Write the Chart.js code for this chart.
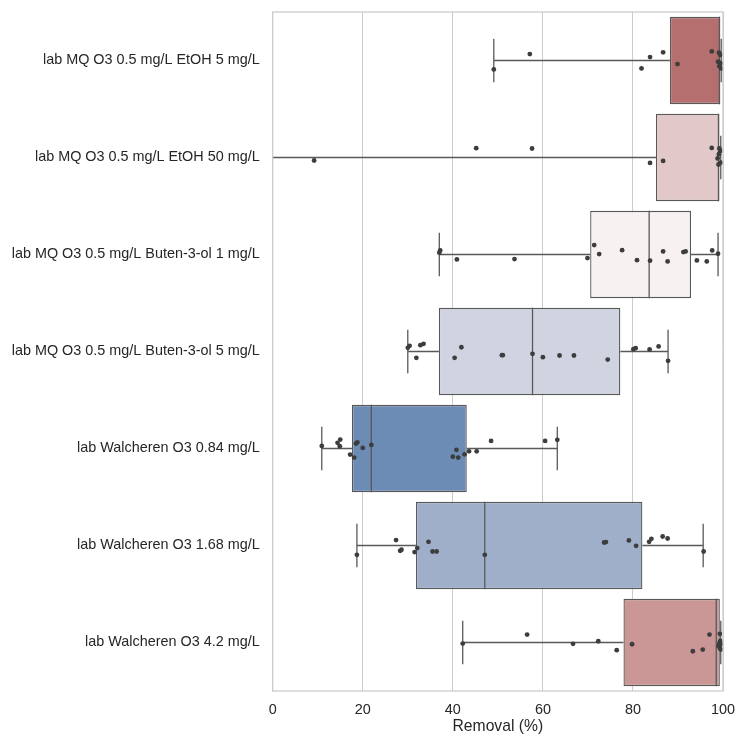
<!DOCTYPE html>
<html>
<head>
<meta charset="utf-8">
<script src="https://cdn.jsdelivr.net/npm/chart.js@4.4.1/dist/chart.umd.min.js"></script>
<style>
  html, body { margin: 0; padding: 0; background: #ffffff; }
  #wrap { width: 737px; height: 738px; position: relative; }
</style>
</head>
<body>
<div id="wrap"><canvas id="chart"></canvas></div>
<script>
// Experiments (one box per row, top to bottom)
const categories = [
  'lab MQ O3 0.5 mg/L EtOH 5 mg/L',
  'lab MQ O3 0.5 mg/L EtOH 50 mg/L',
  'lab MQ O3 0.5 mg/L Buten-3-ol 1 mg/L',
  'lab MQ O3 0.5 mg/L Buten-3-ol 5 mg/L',
  'lab Walcheren O3 0.84 mg/L',
  'lab Walcheren O3 1.68 mg/L',
  'lab Walcheren O3 4.2 mg/L'
];

// Box statistics, removal in %
const whiskerLow  = [49.1, -2.0, 37.0, 30.0, 10.9, 18.7, 42.2];
const quartile1   = [88.2, 85.1, 70.5, 36.9, 17.6, 31.8, 77.9];
const medians     = [99.2, 99.0, 83.6, 57.7, 21.9, 47.1, 98.5];
const quartile3   = [99.4, 99.2, 92.9, 77.2, 43.1, 82.1, 99.3];
const whiskerHigh = [99.6, 99.5, 98.9, 87.8, 63.2, 95.6, 99.5];

// Individual measurements per experiment, removal in %
const removalPoints = [
  [57.1, 49.1, 81.9, 83.8, 86.7, 89.9, 97.5, 99.1, 99.4, 98.9, 99.5, 99.2, 99.6],
  [9.2, 45.2, 57.6, 83.8, 86.7, 97.5, 99.2, 99.4, 99.1, 98.8, 99.5, 99.0],
  [37.2, 37.0, 40.9, 53.7, 69.9, 71.4, 72.5, 77.6, 80.9, 83.8, 86.7, 87.7, 91.2, 91.7, 94.2, 96.4, 97.6, 98.9],
  [30.0, 30.4, 31.9, 32.8, 33.5, 40.4, 41.9, 50.9, 51.1, 57.7, 60.0, 63.7, 66.9, 74.4, 80.1, 80.6, 83.7, 85.7, 87.8],
  [10.9, 14.4, 15.0, 14.9, 17.2, 18.1, 18.5, 18.8, 20.0, 21.9, 40.0, 40.8, 41.2, 42.6, 43.6, 45.3, 48.5, 60.5, 63.2],
  [18.7, 27.4, 28.3, 28.6, 31.5, 32.1, 34.6, 35.5, 36.4, 47.1, 73.6, 74.0, 79.1, 80.7, 83.6, 84.1, 86.6, 87.7, 95.7],
  [42.2, 56.5, 66.7, 72.3, 76.4, 79.8, 93.3, 95.5, 97.0, 99.3, 99.4, 99.0, 99.2, 99.6, 99.3, 99.5]
];

// Strip-plot jitter of each measurement, as a fraction of one row
const jitter = [
  [-0.066, 0.092, 0.082, -0.035, -0.084, 0.037, -0.094, -0.08, -0.056, 0.013, 0.03, 0.058, 0.082],
  [0.031, -0.096, -0.093, 0.056, 0.035, -0.099, -0.093, -0.068, -0.034, 0.01, 0.052, 0.072],
  [-0.042, -0.019, 0.051, 0.047, 0.037, -0.097, -0.004, -0.045, 0.058, 0.064, -0.032, 0.071, -0.025, -0.032, 0.061, 0.071, -0.042, -0.008],
  [-0.038, -0.059, 0.065, -0.065, -0.079, 0.065, -0.044, 0.038, 0.038, 0.024, 0.059, 0.041, 0.041, 0.083, -0.024, -0.034, -0.021, -0.052, 0.096],
  [-0.027, -0.058, -0.092, -0.023, 0.063, 0.094, -0.051, -0.064, -0.006, -0.037, 0.084, 0.014, 0.094, 0.06, 0.029, 0.029, -0.078, -0.078, -0.089],
  [0.096, -0.056, 0.055, 0.044, 0.068, 0.027, -0.038, 0.062, 0.062, 0.096, -0.031, -0.035, -0.052, 0.003, -0.038, -0.069, -0.093, -0.072, 0.062],
  [0.011, -0.082, 0.014, -0.013, 0.079, 0.018, 0.09, 0.073, -0.082, -0.089, -0.017, 0.035, 0.004, 0.014, 0.056, 0.071]
];

const xTicks = [0, 20, 40, 60, 80, 100];
const xTitle = 'Removal (%)';

// Styling
const boxColors = [
  'rgb(180,111,110)',
  'rgb(226,200,200)',
  'rgb(247,241,241)',
  'rgb(208,212,224)',
  'rgb(108,139,181)',
  'rgb(159,175,201)',
  'rgb(202,151,150)'
];
const lineColor = '#595959';
const pointColor = '#3d3d3d';
const frameColor = '#cccccc';
const textColor = '#262626';
const fontFamily = "'Liberation Sans', Arial, Helvetica, sans-serif";
const BOX_HALF = 0.45;
const CAP_HALF = 0.225;

// Build datasets
const datasets = [];

datasets.push({
  type: 'bar',
  data: categories.map((c, i) => ({ x: [quartile1[i], quartile3[i]], y: i })),
  backgroundColor: boxColors,
  borderColor: lineColor,
  borderWidth: 1.3,
  borderSkipped: false,
  barPercentage: 2 * BOX_HALF,
  categoryPercentage: 1.0,
  order: 3
});

function segment(points) {
  return {
    type: 'scatter',
    data: points,
    showLine: true,
    borderColor: lineColor,
    borderWidth: 1.3,
    pointRadius: 0,
    pointHoverRadius: 0,
    clip: 0,
    order: 2
  };
}

categories.forEach((c, i) => {
  datasets.push(segment([{ x: whiskerLow[i], y: i }, { x: quartile1[i], y: i }]));
  datasets.push(segment([{ x: quartile3[i], y: i }, { x: whiskerHigh[i], y: i }]));
  datasets.push(segment([{ x: whiskerLow[i], y: i - CAP_HALF }, { x: whiskerLow[i], y: i + CAP_HALF }]));
  datasets.push(segment([{ x: whiskerHigh[i], y: i - CAP_HALF }, { x: whiskerHigh[i], y: i + CAP_HALF }]));
  datasets.push(segment([{ x: medians[i], y: i - BOX_HALF }, { x: medians[i], y: i + BOX_HALF }]));
});

const stripData = [];
removalPoints.forEach((row, i) => {
  row.forEach((v, k) => stripData.push({ x: v, y: i + jitter[i][k] }));
});
datasets.push({
  type: 'scatter',
  data: stripData,
  pointRadius: 2.4,
  pointBorderWidth: 0,
  pointBackgroundColor: pointColor,
  pointBorderColor: pointColor,
  order: 1
});

// Axes frame on all four sides
const framePlugin = {
  id: 'frame',
  afterDatasetsDraw(chart) {
    const a = chart.chartArea;
    const ctx = chart.ctx;
    ctx.save();
    ctx.strokeStyle = frameColor;
    ctx.lineWidth = 1.3;
    ctx.strokeRect(a.left, a.top, a.right - a.left, a.bottom - a.top);
    ctx.restore();
  }
};

function noEdgePadding(scale) {
  scale.paddingTop = 0;
  scale.paddingBottom = 0;
  scale.paddingLeft = 0;
  scale.paddingRight = 0;
}

new Chart(document.getElementById('chart'), {
  type: 'bar',
  data: { datasets },
  options: {
    indexAxis: 'y',
    responsive: true,
    maintainAspectRatio: false,
    animation: false,
    events: [],
    layout: { padding: { top: 12, right: 14, bottom: 0, left: 0 } },
    plugins: { legend: { display: false }, tooltip: { enabled: false } },
    scales: {
      x: {
        type: 'linear',
        position: 'bottom',
        min: 0,
        max: 100,
        offset: false,
        afterBuildTicks(scale) { scale.ticks = xTicks.map(v => ({ value: v })); },
        afterFit(scale) { scale.height = 47; noEdgePadding(scale); },
        grid: { color: frameColor, lineWidth: 1, drawTicks: false, offset: false },
        border: { display: false },
        ticks: {
          color: textColor,
          padding: 10,
          font: { family: fontFamily, size: 14.4 }
        },
        title: {
          display: true,
          text: xTitle,
          color: textColor,
          padding: { top: 0, bottom: 2 },
          font: { family: fontFamily, size: 15.7 }
        }
      },
      y: {
        type: 'linear',
        position: 'left',
        min: -0.5,
        max: 6.5,
        reverse: true,
        offset: false,
        afterBuildTicks(scale) { scale.ticks = categories.map((c, i) => ({ value: i })); },
        afterFit(scale) { scale.width = 272.7; noEdgePadding(scale); },
        grid: { display: false, drawTicks: false, offset: false },
        border: { display: false },
        ticks: {
          color: textColor,
          padding: 13,
          font: { family: fontFamily, size: 14.4 },
          callback: (v) => categories[v]
        }
      }
    }
  },
  plugins: [framePlugin]
});
</script>
</body>
</html>
